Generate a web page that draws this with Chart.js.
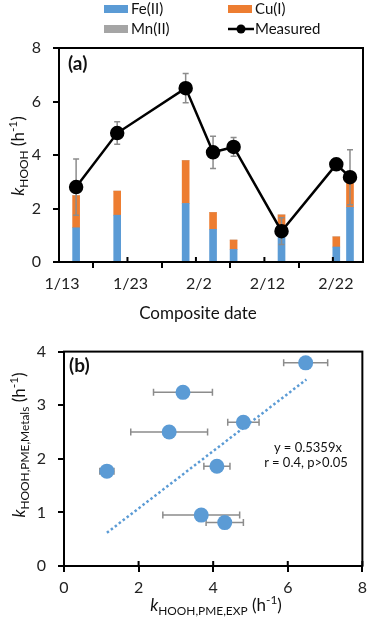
<!DOCTYPE html>
<html>
<head>
<meta charset="utf-8">
<script src="https://cdn.jsdelivr.net/npm/chart.js@4.4.1/dist/chart.umd.min.js"></script>
<style>
    body { margin: 0; background: #fff; font-family: Lato, 'Open Sans', sans-serif; }
    #wrap { position: relative; width: 373px; height: 617px; overflow: hidden; }
    canvas { position: absolute; left: 0; }
    #chartA { top: 0; }
    #chartB { top: 330px; }
    .txt { position: absolute; white-space: nowrap; color: #111; line-height: 1; }
    .rot { transform: translate(-50%, -50%) rotate(-90deg); }
    .ctr { transform: translate(-50%, -50%); }
    .leg { position: absolute; font-size: 15px; color: #111; line-height: 1; white-space: nowrap; }
    .sw { display: inline-block; width: 24px; height: 8px; margin-right: 3px; vertical-align: 1px; }
    .panel { font-weight: bold; font-size: 19px; }
    sub, sup { font-size: 70%; line-height: 0; }
</style>
</head>
<body>
<div id="wrap">
    <canvas id="chartA" width="373" height="330"></canvas>
    <canvas id="chartB" width="373" height="287"></canvas>

    <div class="leg" style="left:104px; top:1px;"><span class="sw" style="background:#5B9BD5"></span>Fe(II)</div>
    <div class="leg" style="left:228px; top:1px;"><span class="sw" style="background:#ED7D31"></span>Cu(I)</div>
    <div class="leg" style="left:104px; top:21px;"><span class="sw" style="background:#A5A5A5"></span>Mn(II)</div>
    <div class="leg" style="left:228px; top:21px;">
        <svg width="26" height="10" style="margin-right:1px; vertical-align:0px"><line x1="0" y1="5" x2="26" y2="5" stroke="#000" stroke-width="2.5"/><circle cx="13" cy="5" r="4.5" fill="#000"/></svg>Measured
    </div>

    <div class="txt panel" style="left:68px; top:53px;">(a)</div>
    <div class="txt panel" style="left:69px; top:355px;">(b)</div>

    <div class="txt rot" style="left:17px; top:156px; font-size:17px;"><i>k</i><sub>HOOH</sub> (h<sup>-1</sup>)</div>
    <div class="txt ctr" style="left:198px; top:312px; font-size:17px;">Composite date</div>

    <div class="txt rot" style="left:18px; top:445px; font-size:17px;"><i>k</i><sub>HOOH,PME,Metals</sub> (h<sup>-1</sup>)</div>
    <div class="txt ctr" style="left:216px; top:604px; font-size:17px;"><i>k</i><sub>HOOH,PME,EXP</sub> (h<sup>-1</sup>)</div>

    <div class="txt ctr" style="left:308px; top:447px; font-size:13px;">y = 0.5359x</div>
    <div class="txt ctr" style="left:306px; top:462px; font-size:13px;">r = 0.4, p&gt;0.05</div>
</div>

<script>
// ---- panel (a): composite samples ----
const sampleDates = ['1/15', '1/21', '1/31', '2/4', '2/7', '2/14', '2/22', '2/24'];
const feII = [1.28, 1.75, 2.19, 1.22, 0.47, 1.05, 0.56, 2.04];
const cuI = [1.20, 0.90, 1.60, 0.63, 0.35, 0.71, 0.38, 1.19];
const mnII = [0, 0, 0, 0, 0, 0, 0, 0];
const measured = [2.80, 4.82, 6.50, 4.10, 4.30, 1.15, 3.65, 3.17];
const measuredErr = [1.05, 0.42, 0.55, 0.60, 0.35, 0.50, 0, 1.03];
const dateTicks = ['1/13', '1/23', '2/2', '2/12', '2/22'];

// ---- panel (b): PME metals vs experiment ----
const pmeExp = [2.82, 4.81, 6.48, 4.10, 4.31, 1.15, 3.68, 3.19];
const pmeExpErr = [1.03, 0.42, 0.59, 0.35, 0.50, 0.19, 1.03, 0.79];
const pmeMetals = [2.50, 2.68, 3.79, 1.86, 0.81, 1.77, 0.95, 3.24];
const trendX = [1.15, 6.50];
const trendY = [0.62, 3.48];

const BLUE = '#5B9BD5';
const ORANGE = '#ED7D31';
const GRAY = '#A5A5A5';
const ERR = '#8C8C8C';
const TICK_FONT = { family: 'Lato, "Open Sans", sans-serif', size: 16 };

/**
 * Days since 1/13, centred in the day slot like Excel's date axis.
 */
function dateToX(label) {
    const [m, d] = label.split('/').map(Number);
    const day = m === 1 ? d - 13 : 31 - 13 + d;
    return day + 0.5;
}

function toPoints(values) {
    return values.map((v, i) => ({ x: dateToX(sampleDates[i]), y: v }));
}

/**
 * Plot area frame plus ticks that cross the axis line.
 */
const frame = {
    id: 'frame',
    afterDraw(chart) {
        const { ctx, chartArea: a } = chart;
        ctx.save();
        ctx.strokeStyle = '#000';
        ctx.lineWidth = 2;
        ctx.strokeRect(a.left, a.top, a.right - a.left, a.bottom - a.top);
        const xs = chart.scales.x;
        ctx.beginPath();
        xs.ticks.forEach(t => {
            const px = xs.getPixelForValue(t.value);
            ctx.moveTo(px, a.bottom - 5);
            ctx.lineTo(px, a.bottom);
        });
        ctx.stroke();
        ctx.restore();
    }
};

/**
 * Draw error bars for one dataset just before that dataset is drawn.
 */
function errorBars(datasetIndex, errs, horizontal) {
    return {
        id: 'errorBars' + datasetIndex,
        beforeDatasetDraw(chart, args) {
            if (args.index !== datasetIndex) return;
            const { ctx } = chart;
            const xs = chart.scales.x, ys = chart.scales.y;
            const data = chart.data.datasets[datasetIndex].data;
            ctx.save();
            ctx.strokeStyle = ERR;
            ctx.lineWidth = 1.5;
            ctx.beginPath();
            data.forEach((p, i) => {
                const e = errs[i];
                if (!e) return;
                if (horizontal) {
                    const y = ys.getPixelForValue(p.y);
                    const x0 = xs.getPixelForValue(p.x - e), x1 = xs.getPixelForValue(p.x + e);
                    ctx.moveTo(x0, y); ctx.lineTo(x1, y);
                    ctx.moveTo(x0, y - 3.5); ctx.lineTo(x0, y + 3.5);
                    ctx.moveTo(x1, y - 3.5); ctx.lineTo(x1, y + 3.5);
                } else {
                    const x = xs.getPixelForValue(p.x);
                    const y0 = ys.getPixelForValue(p.y - e), y1 = ys.getPixelForValue(p.y + e);
                    ctx.moveTo(x, y0); ctx.lineTo(x, y1);
                    ctx.moveTo(x - 3, y0); ctx.lineTo(x + 3, y0);
                    ctx.moveTo(x - 3, y1); ctx.lineTo(x + 3, y1);
                }
            });
            ctx.stroke();
            ctx.restore();
        }
    };
}

function axisGrid() {
    return {
        display: true,
        drawOnChartArea: false,
        drawTicks: true,
        tickLength: 6,
        color: '#000',
        lineWidth: 2
    };
}

// Panel (a)
const chartA = new Chart(document.getElementById('chartA').getContext('2d'), {
    type: 'bar',
    data: {
        datasets: [{
            type: 'line',
            label: 'Measured',
            data: toPoints(measured),
            borderColor: '#000',
            backgroundColor: '#000',
            borderWidth: 2.5,
            pointRadius: 6,
            pointHoverRadius: 6,
            stack: 'measured',
            order: 0
        }, {
            label: 'Fe(II)',
            data: toPoints(feII),
            backgroundColor: BLUE,
            barThickness: 7,
            stack: 'metals',
            order: 1
        }, {
            label: 'Cu(I)',
            data: toPoints(cuI),
            backgroundColor: ORANGE,
            barThickness: 7,
            stack: 'metals',
            order: 1
        }, {
            label: 'Mn(II)',
            data: toPoints(mnII),
            backgroundColor: GRAY,
            barThickness: 7,
            stack: 'metals',
            order: 1
        }]
    },
    options: {
        responsive: false,
        animation: false,
        layout: { padding: { top: 48, right: 10, left: 0, bottom: 0 } },
        scales: {
            x: {
                type: 'linear',
                min: 0,
                max: 44.4,
                offset: false,
                grid: axisGrid(),
                border: { display: false },
                ticks: {
                    stepSize: 10,
                    includeBounds: false,
                    autoSkip: false,
                    maxRotation: 0,
                    labelOffset: 3,
                    padding: 6,
                    color: '#222',
                    font: TICK_FONT,
                    callback: v => dateTicks[v / 10]
                },
                afterFit: s => { s.height = 68; }
            },
            y: {
                stacked: true,
                min: 0,
                max: 8,
                grid: axisGrid(),
                border: { display: false },
                ticks: { stepSize: 2, padding: 12, color: '#222', font: TICK_FONT },
                afterFit: s => { s.width = 59; }
            }
        },
        plugins: { legend: { display: false }, tooltip: { enabled: false } }
    },
    plugins: [frame, errorBars(0, measuredErr, false)]
});

// Panel (b)
const chartB = new Chart(document.getElementById('chartB').getContext('2d'), {
    type: 'scatter',
    data: {
        datasets: [{
            type: 'line',
            label: 'Linear fit',
            data: trendX.map((x, i) => ({ x: x, y: trendY[i] })),
            borderColor: BLUE,
            borderWidth: 2.5,
            borderDash: [2.5, 2.5],
            pointRadius: 0,
            fill: false
        }, {
            label: 'PME',
            data: pmeExp.map((x, i) => ({ x: x, y: pmeMetals[i] })),
            backgroundColor: BLUE,
            borderWidth: 0,
            pointRadius: 7.5,
            pointHoverRadius: 7.5
        }]
    },
    options: {
        responsive: false,
        animation: false,
        layout: { padding: { top: 21, right: 4, left: 0, bottom: 0 } },
        scales: {
            x: {
                type: 'linear',
                min: 0,
                max: 8,
                grid: axisGrid(),
                border: { display: false },
                ticks: { stepSize: 2, padding: 6, maxRotation: 0, color: '#222', font: TICK_FONT },
                afterFit: s => { s.height = 51; }
            },
            y: {
                min: 0,
                max: 4,
                grid: axisGrid(),
                border: { display: false },
                ticks: { stepSize: 1, padding: 12, color: '#222', font: TICK_FONT },
                afterFit: s => { s.width = 64; }
            }
        },
        plugins: { legend: { display: false }, tooltip: { enabled: false } }
    },
    plugins: [frame, errorBars(1, pmeExpErr, true)]
});
</script>
</body>
</html>
